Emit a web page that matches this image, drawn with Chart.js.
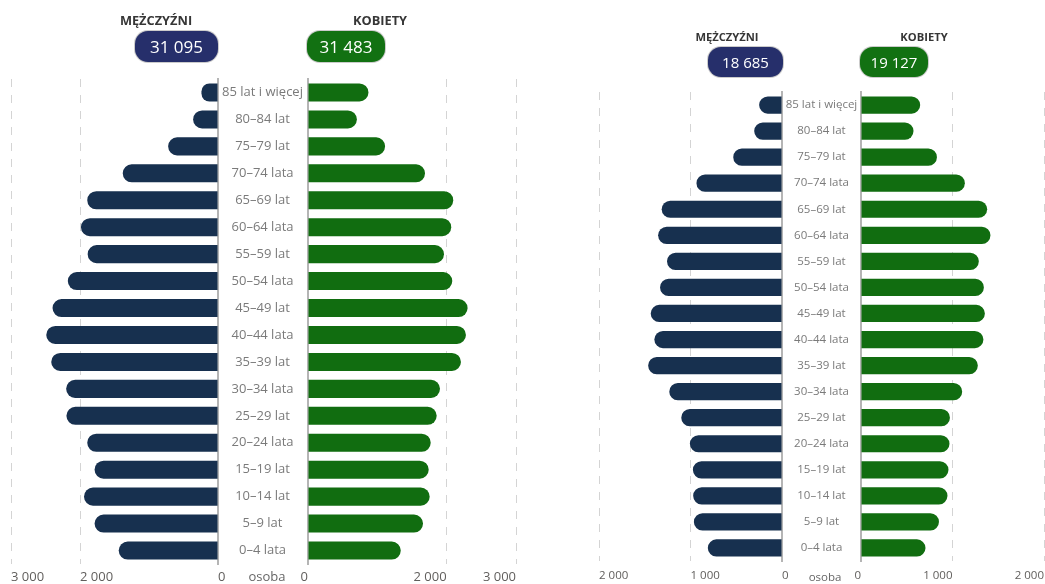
<!DOCTYPE html>
<html><head><meta charset="utf-8">
<script src="https://cdn.jsdelivr.net/npm/chart.js@4.4.1/dist/chart.umd.min.js"></script>
<style>
html,body{margin:0;padding:0;background:#fff;}
body{width:1045px;height:584px;position:relative;overflow:hidden;font-family:"Open Sans",sans-serif;}
canvas{position:absolute;top:0;}
.hdr{position:absolute;font-weight:700;color:#363636;white-space:nowrap;transform:translate(-50%,-50%);}
.pill{position:absolute;color:#fff;display:flex;align-items:center;justify-content:center;border-radius:13px;box-sizing:border-box;box-shadow:0 0 0 1px rgba(140,140,140,0.45);}
.unit{position:absolute;color:#666;white-space:nowrap;transform:translate(-50%,-50%);}
</style></head><body>
<canvas id="lm" width="228" height="584" style="left:0px"></canvas>
<canvas id="lw" width="300" height="584" style="left:220px"></canvas>
<canvas id="rm" width="202" height="584" style="left:590px"></canvas>
<canvas id="rw" width="261" height="584" style="left:784px"></canvas>
<div id="overlay"></div>
<script>
const ageGroups = ["85 lat i więcej","80–84 lat","75–79 lat","70–74 lata","65–69 lat","60–64 lata","55–59 lat","50–54 lata","45–49 lat","40–44 lata","35–39 lat","30–34 lata","25–29 lat","20–24 lata","15–19 lat","10–14 lat","5–9 lat","0–4 lata"];
const leftMen    = [240, 361, 723, 1381, 1895, 1986, 1889, 2177, 2398, 2489, 2417, 2201, 2197, 1895, 1789, 1942, 1789, 1439];
const leftWomen  = [872, 705, 1112, 1688, 2095, 2066, 1961, 2081, 2302, 2278, 2206, 1904, 1856, 1770, 1741, 1755, 1659, 1338];
const rightMen   = [250, 304, 533, 935, 1315, 1354, 1257, 1333, 1435, 1395, 1463, 1232, 1101, 1007, 974, 971, 963, 811];
const rightWomen = [647, 574, 830, 1135, 1379, 1415, 1288, 1343, 1354, 1338, 1277, 1106, 972, 967, 956, 945, 852, 705];
const leftTicks  = [0, 2000, 3000];
const rightTicks = [0, 1000, 2000];
const leftTotals  = [31095, 31483];
const rightTotals = [18685, 19127];
const sexLabels = ["MĘŻCZYŹNI", "KOBIETY"];
const unitLabel = "osoba";

const MEN = '#17304f', WOMEN = '#116d10', PILL_MEN = '#262f6b', PILL_WOMEN = '#127112';
const fmt = v => String(v).replace(/\B(?=(\d{3})+(?!\d))/g, '\u00a0');

function widest(fs){
  const c = document.createElement('canvas').getContext('2d');
  c.font = fs + 'px "Open Sans"';
  return Math.max(...ageGroups.map(l => c.measureText(l).width));
}

function half(id, o){
  return new Chart(document.getElementById(id), {
    type:'bar',
    data:{labels:ageGroups, datasets:[{data:o.values, backgroundColor:o.color, borderRadius:20, borderSkipped:'start', categoryPercentage:1, barPercentage:o.barPct}]},
    options:{
      indexAxis:'y', responsive:false, animation:false, devicePixelRatio:1,
      layout:{padding:o.pad},
      plugins:{legend:{display:false}, tooltip:{enabled:false}},
      scales:{
        x:{type:'linear', min:0, max:o.max, reverse:o.reverse,
          afterBuildTicks:s=>{ s.ticks = o.ticks.map(v=>({value:v})); },
          afterFit:s=>{ s.height = o.xHeight; s.paddingLeft = 0; s.paddingRight = 0; },
          grid:{drawTicks:false, lineWidth:1, color:c => (c.tick && c.tick.value === 0) ? 'rgba(0,0,0,0)' : '#d4d4d4'},
          border:{display:false, dash:[8,8]},
          ticks:{align:o.reverse ? 'start' : 'end', padding:o.tickPad, color:'#605e5c', maxRotation:0, autoSkip:false,
                 font:{family:'Open Sans', size:o.fs}, callback:v => fmt(v)}
        },
        y:{position:o.reverse ? 'right' : 'left',
          grid:{display:false, drawTicks:false},
          border:{display:true, color:'#b5b5b5', width:2},
          afterFit:s=>{ s.width = o.yWidth; s.paddingTop = 0; s.paddingBottom = 0; },
          ticks:{display:!o.reverse, crossAlign:'center', padding:o.labelPad || 0, color:'#7a7a7a',
                 font:{family:'Open Sans', size:o.catFs}}
        }
      }
    }
  });
}

const LCAT = 13, RCAT = 11.5;
half('lm', {values:leftMen, color:MEN, reverse:true, max:3000, ticks:leftTicks, barPct:0.67,
  pad:{left:11, right:10, top:79, bottom:0}, xHeight:20, tickPad:5, fs:13, yWidth:0, catFs:LCAT});
half('lw', {values:leftWomen, color:WOMEN, reverse:false, max:3000, ticks:leftTicks, barPct:0.67,
  pad:{left:0, right:4, top:79, bottom:0}, xHeight:20, tickPad:5, fs:13, yWidth:88, catFs:LCAT,
  labelPad:45.5 - widest(LCAT)/2});
half('rm', {values:rightMen, color:MEN, reverse:true, max:2000, ticks:rightTicks, barPct:0.66,
  pad:{left:9, right:10, top:92, bottom:3}, xHeight:20, tickPad:8, fs:11.5, yWidth:0, catFs:RCAT});
half('rw', {values:rightWomen, color:WOMEN, reverse:false, max:2000, ticks:rightTicks, barPct:0.66,
  pad:{left:0, right:1, top:92, bottom:3}, xHeight:20, tickPad:8, fs:11.5, yWidth:77, catFs:RCAT,
  labelPad:39.5 - widest(RCAT)/2});

const ov = document.getElementById('overlay');
function add(cls, text, css){ const d = document.createElement('div'); d.className = cls; d.textContent = text; Object.assign(d.style, css); ov.appendChild(d); }
add('hdr', sexLabels[0], {left:'156px', top:'20px', fontSize:'12.8px'});
add('hdr', sexLabels[1], {left:'380px', top:'20px', fontSize:'12.8px'});
add('pill', fmt(leftTotals[0]), {left:'135px', top:'31px', width:'83px', height:'31px', fontSize:'17px', background:PILL_MEN});
add('pill', fmt(leftTotals[1]), {left:'307px', top:'31px', width:'78px', height:'31px', fontSize:'17px', background:PILL_WOMEN});
add('hdr', sexLabels[0], {left:'727px', top:'36px', fontSize:'11.2px'});
add('hdr', sexLabels[1], {left:'924px', top:'36px', fontSize:'11.2px'});
add('pill', fmt(rightTotals[0]), {left:'708px', top:'47px', width:'75px', height:'30px', fontSize:'15px', background:PILL_MEN});
add('pill', fmt(rightTotals[1]), {left:'860px', top:'47px', width:'68px', height:'30px', fontSize:'15px', background:PILL_WOMEN});
add('unit', unitLabel, {left:'267px', top:'576px', fontSize:'13px'});
add('unit', unitLabel, {left:'825px', top:'576px', fontSize:'11.5px'});
</script>
</body></html>
